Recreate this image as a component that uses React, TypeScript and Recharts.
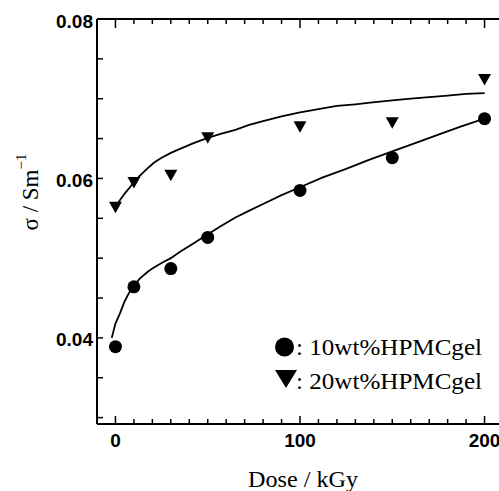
import React from "react";
import { ComposedChart, XAxis, YAxis, Scatter } from "recharts";

// ---- data ----
const dose10 = [0, 10, 30, 50, 100, 150, 200];
const sigma10 = [0.0389, 0.0464, 0.0487, 0.0526, 0.0585, 0.0626, 0.0675];
const dose20 = [0, 10, 30, 50, 100, 150, 200];
const sigma20 = [0.0564, 0.0595, 0.0604, 0.0651, 0.0665, 0.067, 0.0724];

const fitDose10 = [-2, 0, 2.5, 5, 7.5, 10, 13, 17.5, 20, 25, 30, 35, 42, 50, 57, 65, 72, 80, 90, 100, 112, 125, 137, 150, 162, 175, 187, 200];
const fitSigma10 = [0.04, 0.0418, 0.0431, 0.0446, 0.0457, 0.0465, 0.0474, 0.0483, 0.0487, 0.0494, 0.05, 0.0508, 0.0518, 0.053, 0.054, 0.0551, 0.0559, 0.0568, 0.0579, 0.0589, 0.0601, 0.0612, 0.0623, 0.0634, 0.0644, 0.0655, 0.0665, 0.0675];
const fitDose20 = [0, 2.5, 5, 7.5, 10, 13, 17.5, 21, 25, 30, 35, 42, 50, 57, 65, 72, 80, 90, 100, 110, 120, 130, 138, 150, 160, 170, 180, 190, 200];
const fitSigma20 = [0.0565, 0.0573, 0.0581, 0.0588, 0.0595, 0.0603, 0.0613, 0.062, 0.0626, 0.0632, 0.0637, 0.0644, 0.0651, 0.0656, 0.0661, 0.0667, 0.0672, 0.0678, 0.0683, 0.0687, 0.0691, 0.0693, 0.0695, 0.0698, 0.07, 0.0702, 0.0704, 0.0706, 0.0707];

const xTicks = [0, 10, 20, 30, 40, 50, 60, 70, 80, 90, 100, 110, 120, 130, 140, 150, 160, 170, 180, 190, 200];
const xLabelTicks = [0, 100, 200];
const yTicks = [0.03, 0.035, 0.04, 0.045, 0.05, 0.055, 0.06, 0.065, 0.07, 0.075, 0.08];
const yLabelTicks = [0.04, 0.06, 0.08];

const legendLabels = [": 10wt%HPMCgel", ": 20wt%HPMCgel"];
const xTitle = "Dose / kGy";

const toPts = (xs: number[], ys: number[]) => xs.map((x, i) => ({ x, y: ys[i] }));
const pts10 = toPts(dose10, sigma10);
const pts20 = toPts(dose20, sigma20);
const fit10 = toPts(fitDose10, fitSigma10);
const fit20 = toPts(fitDose20, fitSigma20);

const SANS = "'Liberation Sans', Arial, sans-serif";
const SERIF = "'Liberation Serif', 'Times New Roman', serif";

const isLabelX = (v: number) => xLabelTicks.includes(v);
const isLabelY = (v: number) => yLabelTicks.some((t) => Math.abs(t - v) < 1e-9);

const BottomTick = (props: any) => {
  const { x, y, payload } = props;
  const major = isLabelX(payload.value);
  return (
    <g>
      <line x1={x} x2={x} y1={y} y2={y - (major ? 8 : 5)} stroke="#000" strokeWidth={1.5} />
      {major && (
        <text x={x} y={y + 23} textAnchor="middle" fontFamily={SANS} fontWeight="bold" fontSize={19} fill="#000">
          {payload.value}
        </text>
      )}
    </g>
  );
};

const TopTick = (props: any) => {
  const { x, y, payload } = props;
  const major = isLabelX(payload.value);
  return <line x1={x} x2={x} y1={y} y2={y + (major ? 9 : 5)} stroke="#000" strokeWidth={1.5} />;
};

const LeftTick = (props: any) => {
  const { x, y, payload } = props;
  const major = isLabelY(payload.value);
  return (
    <g>
      <line x1={x} x2={x + 6} y1={y} y2={y} stroke="#000" strokeWidth={1.5} />
      {major && (
        <text x={x - 4} y={y + 8.5} textAnchor="end" fontFamily={SANS} fontWeight="bold" fontSize={19} fill="#000">
          {payload.value.toFixed(2)}
        </text>
      )}
    </g>
  );
};

const CircleShape = (props: any) => <circle cx={props.cx} cy={props.cy} r={6.5} fill="#000" />;
const TriShape = (props: any) => {
  const { cx, cy } = props;
  const w = 6.5;
  return <path d={`M${cx - w},${cy - 5.5} L${cx + w},${cy - 5.5} L${cx},${cy + 6} Z`} fill="#000" />;
};
const NoShape = () => <g />;

export default function App() {
  return (
    <div style={{ position: "absolute", left: 0, top: 0, width: 499, height: 491, overflow: "hidden", background: "#fff" }}>
      <ComposedChart width={520} height={491} margin={{ top: 18, right: 17, bottom: 0, left: 0 }}>
        <XAxis
          xAxisId="bottom"
          dataKey="x"
          type="number"
          domain={[-10, 210]}
          ticks={xTicks}
          interval={0}
          height={67}
          tickSize={0}
          tickMargin={0}
          tickLine={false}
          axisLine={{ stroke: "#000", strokeWidth: 2 }}
          tick={<BottomTick />}
        />
        <XAxis
          xAxisId="top"
          orientation="top"
          dataKey="x"
          type="number"
          domain={[-10, 210]}
          ticks={xTicks}
          interval={0}
          height={1}
          tickSize={0}
          tickMargin={0}
          tickLine={false}
          axisLine={{ stroke: "#000", strokeWidth: 2 }}
          tick={<TopTick />}
        />
        <YAxis
          yAxisId="left"
          type="number"
          domain={[0.0292, 0.08]}
          ticks={yTicks}
          interval={0}
          width={97}
          tickSize={0}
          tickMargin={0}
          tickLine={false}
          axisLine={{ stroke: "#000", strokeWidth: 2 }}
          tick={<LeftTick />}
        />
        <Scatter
          xAxisId="bottom"
          yAxisId="left"
          data={fit10}
          dataKey="y"
          line={{ stroke: "#000", strokeWidth: 1.8, fill: "none" }}
          lineType="joint"
          shape={<NoShape />}
          isAnimationActive={false}
        />
        <Scatter
          xAxisId="bottom"
          yAxisId="left"
          data={fit20}
          dataKey="y"
          line={{ stroke: "#000", strokeWidth: 1.8, fill: "none" }}
          lineType="joint"
          shape={<NoShape />}
          isAnimationActive={false}
        />
        <Scatter xAxisId="bottom" yAxisId="left" data={pts10} dataKey="y" fill="#000" shape={<CircleShape />} isAnimationActive={false} />
        <Scatter xAxisId="bottom" yAxisId="left" data={pts20} dataKey="y" fill="#000" shape={<TriShape />} isAnimationActive={false} />
        <Scatter xAxisId="top" yAxisId="left" data={pts20} dataKey="y" fill="none" shape={<NoShape />} isAnimationActive={false} />
      </ComposedChart>
      <svg
        width={499}
        height={491}
        style={{ position: "absolute", left: 0, top: 0, pointerEvents: "none", overflow: "hidden" }}
      >
        <circle cx={284.5} cy={347} r={9.5} fill="#000" />
        <text x={296} y={355} fontFamily={SERIF} fontSize={23} fill="#000" textLength={186} lengthAdjust="spacingAndGlyphs">
          {legendLabels[0]}
        </text>
        <path d="M275,370 L297,370 L286,388 Z" fill="#000" />
        <text x={296} y={389} fontFamily={SERIF} fontSize={23} fill="#000" textLength={186} lengthAdjust="spacingAndGlyphs">
          {legendLabels[1]}
        </text>
        <text transform="translate(38,192) rotate(-90)" textAnchor="middle" fontFamily={SERIF} fontSize={23} fill="#000">
          <tspan>σ / Sm</tspan>
          <tspan dy={-12} fontSize={15}>−1</tspan>
        </text>
        <text x={303} y={487} textAnchor="middle" fontFamily={SERIF} fontSize={23} fill="#000" textLength={110} lengthAdjust="spacingAndGlyphs">
          {xTitle}
        </text>
      </svg>
    </div>
  );
}
